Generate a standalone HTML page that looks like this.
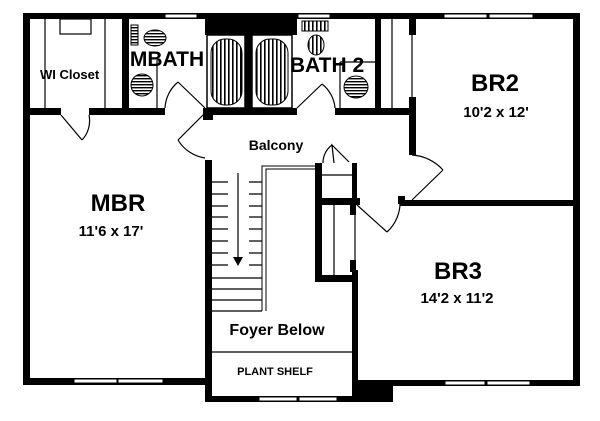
<!DOCTYPE html>
<html><head><style>body{margin:0;background:#fff}svg{display:block}text{font-family:"Liberation Sans",sans-serif;font-weight:bold;fill:#000}</style></head><body>
<svg width="600" height="421" viewBox="0 0 600 421" xmlns="http://www.w3.org/2000/svg">
<defs>
<pattern id="v" width="4" height="4" patternUnits="userSpaceOnUse"><rect width="4" height="4" fill="#fff"/><rect width="1.6" height="4" fill="#000"/></pattern>
<pattern id="h" width="4" height="3" patternUnits="userSpaceOnUse"><rect width="4" height="3" fill="#fff"/><rect width="4" height="1.4" fill="#000"/></pattern>
</defs>
<g fill="#000">
<rect x="23" y="13" width="557" height="6"/>
<rect x="23" y="13" width="7" height="372"/>
<rect x="573" y="13" width="7" height="373"/>
<rect x="23" y="378" width="189" height="7"/>
<rect x="205" y="160" width="7" height="242"/>
<rect x="205" y="396" width="188" height="6"/>
<rect x="352" y="270" width="6" height="132"/>
<rect x="352" y="380" width="228" height="6"/>
<rect x="352" y="386" width="41" height="10"/>
<rect x="400" y="200" width="180" height="6"/>
<rect x="398" y="196" width="7" height="8"/>
<rect x="315" y="163" width="7" height="119"/>
<rect x="315" y="198" width="45" height="7"/>
<rect x="315" y="275" width="43" height="7"/>
<rect x="352" y="163" width="5" height="40"/>
<rect x="350" y="205" width="6" height="10"/>
<rect x="350" y="260" width="6" height="12"/>
<rect x="23" y="108" width="38" height="7"/>
<rect x="89" y="108" width="76" height="7"/>
<rect x="203" y="108" width="10" height="12"/>
<rect x="205" y="108" width="92" height="7"/>
<rect x="335" y="108" width="80" height="7"/>
<rect x="122" y="19" width="7" height="96"/>
<rect x="375" y="19" width="6" height="96"/>
<rect x="409" y="19" width="7" height="16"/>
<rect x="409" y="97" width="7" height="58"/>
<rect x="205" y="13" width="92" height="22"/>
<rect x="245" y="30" width="7" height="80"/>
</g>
<g fill="#fff" stroke="#000" stroke-width="1">
<rect x="74" y="379" width="43" height="4"/><rect x="118" y="379" width="45" height="4"/>
<rect x="259" y="397" width="38" height="4"/><rect x="299" y="397" width="38" height="4"/>
<rect x="445" y="381" width="40" height="4"/><rect x="487" y="381" width="43" height="4"/>
<rect x="444" y="14" width="43" height="4"/><rect x="489" y="14" width="44" height="4"/>
<rect x="165" y="14" width="32" height="4"/><rect x="298" y="14" width="32" height="4"/>
</g>
<g stroke="#000" fill="none" stroke-width="1.2">
<line x1="45" y1="19" x2="45" y2="108"/><line x1="105" y1="19" x2="105" y2="108"/>
<rect x="60" y="19" width="31" height="15"/>
<line x1="355" y1="205" x2="355" y2="270"/>
<line x1="412" y1="35" x2="412" y2="97"/>
<line x1="392" y1="19" x2="392" y2="108"/>
<line x1="157" y1="60" x2="157" y2="108"/>
<line x1="340" y1="62" x2="340" y2="108"/><line x1="340" y1="62" x2="375" y2="62"/>
<line x1="322" y1="175" x2="352" y2="175"/>
<line x1="334" y1="205" x2="334" y2="275"/>
<rect x="207" y="35" width="38" height="73" stroke-width="1.5"/>
<rect x="252" y="35" width="40" height="73" stroke-width="1.5"/>
<path d="M262 311 V166 H315" stroke-width="1"/><path d="M266 311 V169 H315" stroke-width="1"/>
<path d="M212 182H228M212 194H228M212 206H228M212 217H228M212 229H228M212 241H228M212 253H228M212 265H228M249 182H262M249 194H262M249 206H262M249 217H262M249 229H262M249 241H262M249 253H262M249 265H262M212 278H262M212 289H262M212 300H262M212 311H262"/>
<line x1="238" y1="173" x2="238" y2="258"/>
<line x1="212" y1="352" x2="352" y2="352"/>
<path d="M61 115 L82 140 M82 140 A28 28 0 0 0 89 115"/>
<path d="M205 113 L178 140 M178 140 A38 38 0 0 0 205 158"/>
<path d="M205 108 L178 82 M178 82 A36 36 0 0 0 165 108"/>
<path d="M297 108 L322 84 M322 84 A34 34 0 0 1 335 108"/>
<path d="M443 170 L412 200 M412 155 A45 45 0 0 1 443 170"/>
<path d="M357 205 L387 232 M387 232 A40 40 0 0 0 400 200"/>
<path d="M334 163 L332 145 L349 162 M332 145 A22 22 0 0 0 323 163"/>
</g>
<polygon points="233,257 243,257 238,266" fill="#000"/>
<rect x="211" y="39" width="31" height="66" rx="14" fill="url(#v)" stroke="#000"/>
<rect x="256" y="39" width="32" height="66" rx="14" fill="url(#v)" stroke="#000"/>
<ellipse cx="155" cy="38" rx="11" ry="8" fill="url(#h)" stroke="#000"/>
<ellipse cx="142" cy="85" rx="11" ry="11" fill="url(#h)" stroke="#000"/>
<rect x="131" y="25" width="7" height="20" fill="url(#h)" stroke="#000"/>
<ellipse cx="316" cy="45" rx="8" ry="10" fill="url(#v)" stroke="#000"/>
<ellipse cx="356" cy="87" rx="12" ry="11" fill="url(#h)" stroke="#000"/>
<rect x="302" y="21" width="26" height="10" fill="url(#v)" stroke="#000"/>
<text x="40" y="79" font-size="13">WI Closet</text>
<text x="167" y="66" font-size="21" text-anchor="middle">MBATH</text>
<text x="327" y="72" font-size="21" text-anchor="middle">BATH 2</text>
<text x="276" y="150" font-size="14" text-anchor="middle">Balcony</text>
<text x="118" y="211" font-size="24" text-anchor="middle">MBR</text>
<text x="111" y="236" font-size="15" text-anchor="middle">11'6 x 17'</text>
<text x="495" y="91" font-size="24" text-anchor="middle">BR2</text>
<text x="496" y="117" font-size="15" text-anchor="middle">10'2 x 12'</text>
<text x="458" y="279" font-size="24" text-anchor="middle">BR3</text>
<text x="457" y="303" font-size="15" text-anchor="middle">14'2 x 11'2</text>
<text x="277" y="335" font-size="16" text-anchor="middle">Foyer Below</text>
<text x="275" y="375" font-size="11" text-anchor="middle">PLANT SHELF</text>
</svg>
</body></html>
